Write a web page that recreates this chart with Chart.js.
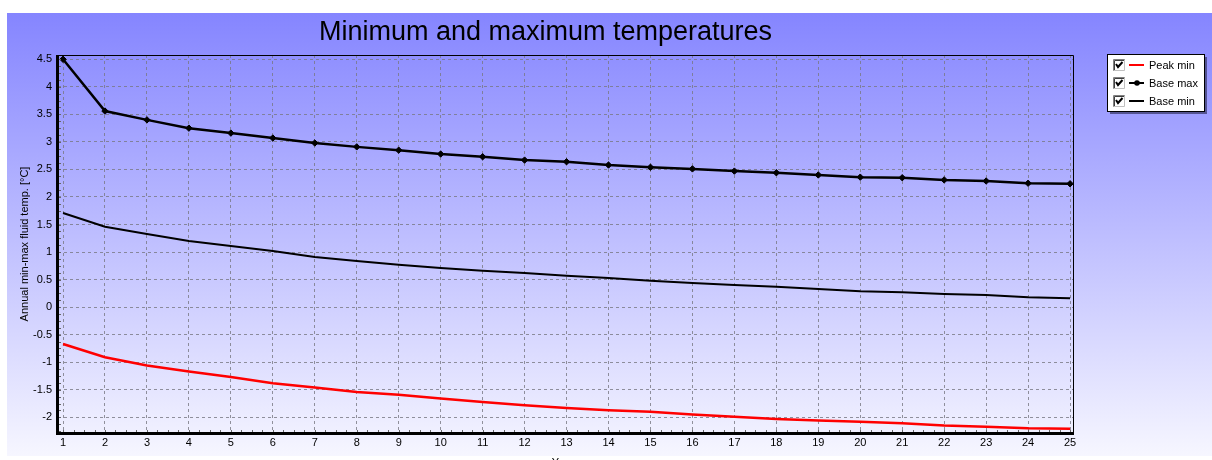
<!DOCTYPE html>
<html>
<head>
<meta charset="utf-8">
<title>Minimum and maximum temperatures</title>
<script src="https://cdn.jsdelivr.net/npm/chart.js@4.4.1/dist/chart.umd.min.js"></script>
<style>
  html, body { margin: 0; padding: 0; background: #ffffff; overflow: hidden; }
  canvas { display: block; }
</style>
</head>
<body>
<canvas id="chart" width="1212" height="480"></canvas>
<script>
// Years of operation
const years = [1,2,3,4,5,6,7,8,9,10,11,12,13,14,15,16,17,18,19,20,21,22,23,24,25];

// Annual fluid temperatures [°C]
const peakMin = [-0.67,-0.91,-1.06,-1.17,-1.27,-1.38,-1.46,-1.54,-1.59,-1.66,-1.72,-1.78,-1.83,-1.87,-1.90,-1.95,-1.99,-2.03,-2.06,-2.08,-2.11,-2.15,-2.17,-2.20,-2.21];
const baseMax = [4.50,3.56,3.40,3.25,3.16,3.07,2.98,2.91,2.85,2.78,2.73,2.67,2.64,2.58,2.54,2.51,2.47,2.44,2.40,2.36,2.35,2.31,2.29,2.25,2.24];
const baseMin = [1.71,1.46,1.33,1.20,1.11,1.02,0.91,0.84,0.77,0.71,0.66,0.62,0.57,0.53,0.48,0.44,0.40,0.37,0.33,0.29,0.27,0.24,0.22,0.18,0.16];

const seriesNames = ['Peak min', 'Base max', 'Base min'];
const chartTitle = 'Minimum and maximum temperatures';
const yTitle = 'Annual min-max fluid temp. [°C]';
const xTitle = 'Years';

const FONT = '"Liberation Sans", Arial, sans-serif';

const toPoints = vals => years.map((yr, i) => ({ x: yr, y: vals[i] }));

// Panel background, frame, titles, minor ticks and legend
const decor = {
  id: 'decor',
  beforeDraw(chart) {
    const ctx = chart.ctx;
    const top = 13, bottom = 456, left = 7, right = chart.width;
    const g = ctx.createLinearGradient(0, top, 0, bottom);
    g.addColorStop(0, '#8585ff');
    g.addColorStop(1, '#f6f6ff');
    ctx.save();
    ctx.fillStyle = g;
    ctx.fillRect(left, top, right - left, bottom - top);
    ctx.restore();
  },
  afterDraw(chart) {
    const ctx = chart.ctx;
    const a = chart.chartArea;
    const xs = chart.scales.x, ys = chart.scales.y;
    ctx.save();

    // minor ticks along the bottom and left axes
    ctx.strokeStyle = '#666';
    ctx.lineWidth = 1;
    const xt = xs.ticks.map(t => t.value);
    const xStep = xt[1] - xt[0];
    for (let v = xt[0] - xStep; v <= xt[xt.length - 1] + xStep; v += xStep / 4) {
      if (v < xs.min || v > xs.max) continue;
      const px = Math.round(xs.getPixelForValue(v)) + 0.5;
      ctx.beginPath(); ctx.moveTo(px, a.bottom); ctx.lineTo(px, a.bottom - 3); ctx.stroke();
    }
    const yt = ys.ticks.map(t => t.value);
    const yStep = yt[1] - yt[0];
    for (let v = yt[0] - yStep; v <= yt[yt.length - 1] + yStep; v += yStep / 4) {
      if (v < ys.min || v > ys.max) continue;
      const py = Math.round(ys.getPixelForValue(v)) + 0.5;
      ctx.beginPath(); ctx.moveTo(a.left, py); ctx.lineTo(a.left + 3, py); ctx.stroke();
    }

    // frame: thin top/right, heavy left/bottom
    ctx.strokeStyle = '#000';
    ctx.lineWidth = 1;
    ctx.beginPath();
    ctx.moveTo(a.left, a.top + 0.5); ctx.lineTo(a.right + 0.5, a.top + 0.5);
    ctx.lineTo(a.right + 0.5, a.bottom);
    ctx.stroke();
    ctx.lineWidth = 3;
    ctx.beginPath();
    ctx.moveTo(a.left - 0.5, a.top); ctx.lineTo(a.left - 0.5, a.bottom + 0.5);
    ctx.lineTo(a.right + 1, a.bottom + 0.5);
    ctx.stroke();

    // chart title
    ctx.fillStyle = '#000';
    ctx.font = '27px ' + FONT;
    ctx.textAlign = 'center';
    ctx.textBaseline = 'middle';
    ctx.fillText(chartTitle, (a.left + a.right) / 2 - 20, 33);

    // y axis title
    ctx.font = '11px ' + FONT;
    ctx.save();
    ctx.translate(25, (a.top + a.bottom) / 2);
    ctx.rotate(-Math.PI / 2);
    ctx.fillText(yTitle, 0, 0);
    ctx.restore();

    // x axis title
    ctx.textBaseline = 'top';
    ctx.fillText(xTitle, (a.left + a.right) / 2, 457);

    // legend box with shadow
    const lx = 1107, ly = 54, lw = 97, lh = 57;
    ctx.fillStyle = 'rgba(60,60,110,0.75)';
    ctx.fillRect(lx + 3, ly + 3, lw, lh);
    ctx.fillStyle = '#fff';
    ctx.fillRect(lx, ly, lw, lh);
    ctx.strokeStyle = '#000';
    ctx.lineWidth = 1;
    ctx.strokeRect(lx + 0.5, ly + 0.5, lw, lh);

    const order = [0, 1, 2];
    order.forEach((di, row) => {
      const ds = chart.data.datasets[di];
      const cy = ly + 11 + row * 18;
      // checkbox
      const bx = lx + 6, by = cy - 6;
      ctx.fillStyle = '#fff';
      ctx.fillRect(bx, by, 12, 12);
      ctx.strokeStyle = '#808080';
      ctx.beginPath(); ctx.moveTo(bx + 0.5, by + 12); ctx.lineTo(bx + 0.5, by + 0.5); ctx.lineTo(bx + 12, by + 0.5); ctx.stroke();
      ctx.strokeStyle = '#404040';
      ctx.beginPath(); ctx.moveTo(bx + 1.5, by + 11); ctx.lineTo(bx + 1.5, by + 1.5); ctx.lineTo(bx + 11, by + 1.5); ctx.stroke();
      ctx.strokeStyle = '#c0c0c0';
      ctx.beginPath(); ctx.moveTo(bx + 0.5, by + 11.5); ctx.lineTo(bx + 11.5, by + 11.5); ctx.lineTo(bx + 11.5, by + 0.5); ctx.stroke();
      ctx.strokeStyle = '#000';
      ctx.lineWidth = 2;
      ctx.beginPath(); ctx.moveTo(bx + 3, by + 5); ctx.lineTo(bx + 5, by + 8); ctx.lineTo(bx + 9.5, by + 3); ctx.stroke();
      ctx.lineWidth = 1;
      // line sample
      ctx.strokeStyle = ds.borderColor;
      ctx.lineWidth = 2;
      ctx.beginPath(); ctx.moveTo(lx + 22, cy); ctx.lineTo(lx + 37, cy); ctx.stroke();
      if (ds.pointRadius > 0) {
        ctx.fillStyle = ds.borderColor;
        ctx.beginPath(); ctx.arc(lx + 30, cy, 2.8, 0, Math.PI * 2); ctx.fill();
      }
      ctx.lineWidth = 1;
      // label
      ctx.fillStyle = '#000';
      ctx.font = '11px ' + FONT;
      ctx.textAlign = 'left';
      ctx.textBaseline = 'middle';
      ctx.fillText(ds.label, lx + 42, cy + 0.5);
    });
    ctx.restore();
  }
};

const gridColor = 'rgba(120,120,130,0.8)';

new Chart(document.getElementById('chart'), {
  type: 'line',
  data: {
    datasets: [
      { label: seriesNames[0], data: toPoints(peakMin), borderColor: '#ff0000', borderWidth: 2.5, pointRadius: 0, tension: 0 },
      { label: seriesNames[1], data: toPoints(baseMax), borderColor: '#000000', backgroundColor: '#000000', borderWidth: 2.5, pointRadius: 3.2, pointBorderWidth: 1, pointStyle: 'rectRot', tension: 0 },
      { label: seriesNames[2], data: toPoints(baseMin), borderColor: '#000000', borderWidth: 2, pointRadius: 0, tension: 0 }
    ]
  },
  options: {
    responsive: false,
    animation: false,
    layout: { padding: { left: 0, top: 55, right: 139, bottom: 0 } },
    plugins: {
      legend: { display: false },
      title: { display: false },
      tooltip: { enabled: false }
    },
    scales: {
      x: {
        type: 'linear',
        min: 0.88,
        max: 25.07,
        afterFit(s) { s.height = 47; },
        ticks: {
          stepSize: 1,
          includeBounds: false,
          padding: 3,
          color: '#000',
          font: { family: FONT, size: 11 },
          maxRotation: 0,
          autoSkip: false,
          callback: v => String(v)
        },
        grid: { color: gridColor, lineWidth: 1, drawTicks: false, tickLength: 0 },
        border: { display: false, dash: [3, 3] }
      },
      y: {
        type: 'linear',
        min: -2.285,
        max: 4.578,
        afterFit(s) { s.width = 58; },
        ticks: {
          stepSize: 0.5,
          includeBounds: false,
          padding: 6,
          color: '#000',
          font: { family: FONT, size: 11 },
          callback: v => String(+v.toFixed(2))
        },
        grid: { color: gridColor, lineWidth: 1, drawTicks: false, tickLength: 0 },
        border: { display: false, dash: [3, 3] }
      }
    }
  },
  plugins: [decor]
});
</script>
</body>
</html>
